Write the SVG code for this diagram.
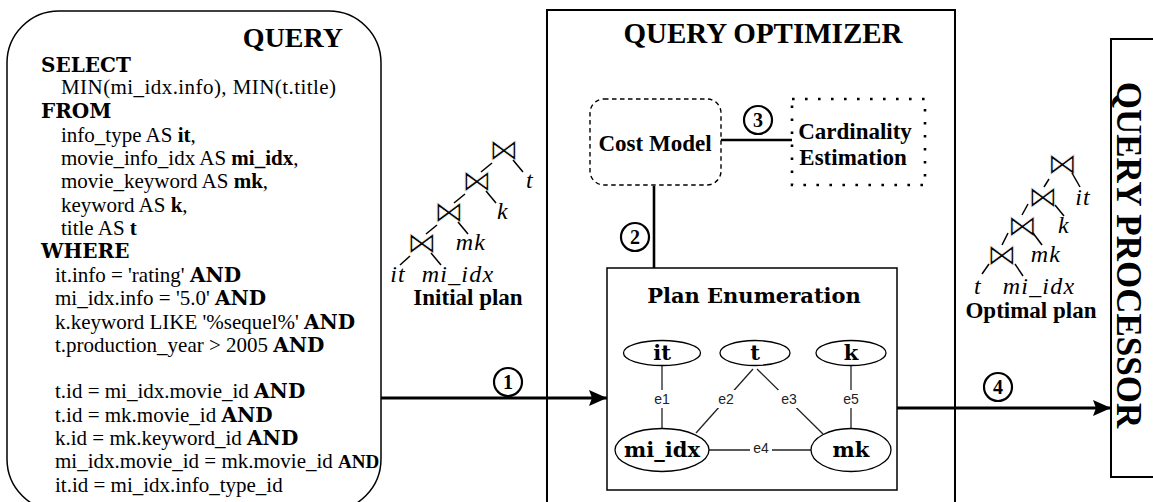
<svg xmlns="http://www.w3.org/2000/svg" width="1153" height="502" viewBox="0 0 1153 502">
<style>
  .q { font-family: "Liberation Serif", serif; font-size: 21px; fill: #000; }
  .kw { font-family: "DejaVu Serif", serif; font-weight: bold; font-size: 20px; }
  .b { font-weight: bold; }
  .tb { font-family: "Liberation Serif", serif; font-weight: bold; fill: #000; }
  .cm { font-family: "DejaVu Serif", serif; font-weight: bold; fill: #000; text-anchor: middle; }
  .mi { font-family: "Liberation Serif", serif; font-style: italic; font-size: 24px; letter-spacing: 1.2px; text-anchor: middle; }
  /* join operator: glyph slightly thinned with a white outline */
  .bt { font-family: "DejaVu Sans", sans-serif; font-size: 30px; text-anchor: middle; fill: #000; stroke: #fff; stroke-width: 0.8px; opacity: 0.99; }
  .el { font-family: "Liberation Sans", Arial, sans-serif; font-size: 14px; text-anchor: middle; fill: #222; }
  .box { fill: none; stroke: #000; stroke-width: 2; }
  .edge { stroke: #222; stroke-width: 1.3; fill: none; }
  .tree line { stroke: #000; stroke-width: 1.5; }
  .num circle { fill: #fff; stroke: #000; stroke-width: 2.2; }
  .num text { font-family: "Liberation Serif", serif; font-weight: bold; font-size: 20px; text-anchor: middle; }
  .node ellipse { fill: #fff; stroke: #000; stroke-width: 1.3; }
</style>
<defs>
  <marker id="ah" markerUnits="userSpaceOnUse" markerWidth="18" markerHeight="16" refX="18" refY="8" orient="auto">
    <path d="M0,0 L18,8 L0,16 L3,8 z" fill="#000"/>
  </marker>
</defs>

<rect width="1153" height="502" fill="#fff"/>

<!-- SQL query panel -->
<g id="query">
  <rect x="7" y="11" width="374" height="500" rx="52" ry="52" fill="none" stroke="#000" stroke-width="1.5"/>
  <text class="tb" x="343" y="47" font-size="28" text-anchor="end">QUERY</text>
  <text class="kw" x="41" y="72">SELECT</text>
  <text class="q" x="61" y="94" textLength="275">MIN(mi_idx.info), MIN(t.title)</text>
  <text class="kw" x="41" y="118">FROM</text>
  <text class="q" x="61" y="142">info_type AS <tspan class="b">it</tspan>,</text>
  <text class="q" x="61" y="165">movie_info_idx AS <tspan class="b">mi_idx</tspan>,</text>
  <text class="q" x="61" y="188">movie_keyword AS <tspan class="b">mk</tspan>,</text>
  <text class="q" x="61" y="212">keyword AS <tspan class="b">k</tspan>,</text>
  <text class="q" x="61" y="235">title AS <tspan class="b">t</tspan></text>
  <text class="kw" x="41" y="258">WHERE</text>
  <text class="q" x="55" y="282">it.info = 'rating' <tspan class="kw">AND</tspan></text>
  <text class="q" x="55" y="305">mi_idx.info = '5.0' <tspan class="kw">AND</tspan></text>
  <text class="q" x="55" y="329">k.keyword LIKE '%sequel%' <tspan class="kw">AND</tspan></text>
  <text class="q" x="55" y="352">t.production_year &gt; 2005 <tspan class="kw">AND</tspan></text>
  <text class="q" x="55" y="398">t.id = mi_idx.movie_id <tspan class="kw">AND</tspan></text>
  <text class="q" x="55" y="422">t.id = mk.movie_id <tspan class="kw">AND</tspan></text>
  <text class="q" x="55" y="445">k.id = mk.keyword_id <tspan class="kw">AND</tspan></text>
  <text class="q" x="55" y="468">mi_idx.movie_id = mk.movie_id <tspan class="b" font-size="19">AND</tspan></text>
  <text class="q" x="55" y="492">it.id = mi_idx.info_type_id</text>
</g>

<!-- initial join tree -->
<g id="initial-plan" class="tree">
  <text class="bt" x="504" y="160">⋈</text>
  <text class="bt" x="477" y="191">⋈</text>
  <text class="bt" x="449" y="222">⋈</text>
  <text class="bt" x="422" y="253">⋈</text>
  <line x1="492" y1="163" x2="481" y2="172"/>
  <line x1="513" y1="160" x2="523" y2="172"/>
  <line x1="465" y1="194" x2="454" y2="203"/>
  <line x1="486" y1="191" x2="496" y2="203"/>
  <line x1="437" y1="225" x2="426" y2="234"/>
  <line x1="458" y1="222" x2="468" y2="234"/>
  <line x1="410" y1="256" x2="400" y2="265"/>
  <line x1="431" y1="253" x2="441" y2="265"/>
  <text class="mi" x="530" y="188">t</text>
  <text class="mi" x="503" y="219">k</text>
  <text class="mi" x="471" y="250">mk</text>
  <text class="mi" x="398" y="282">it</text>
  <text class="mi" x="458" y="282">mi_idx</text>
  <text class="tb" x="468" y="305" font-size="23" text-anchor="middle">Initial plan</text>
</g>

<!-- optimizer frame -->
<g id="optimizer">
  <rect x="547" y="10" width="408" height="510" class="box"/>
  <text class="tb" x="763" y="43" font-size="29" text-anchor="middle">QUERY OPTIMIZER</text>
</g>

<g id="cost-model">
  <rect x="590" y="99" width="131" height="86" rx="14" ry="14" fill="#fff" stroke="#000" stroke-width="1.4" stroke-dasharray="4.5,3.5"/>
  <text class="tb" x="655" y="151" font-size="23" text-anchor="middle">Cost Model</text>
</g>

<g id="cardinality">
  <rect x="792" y="99" width="133" height="86" fill="none" stroke="#000" stroke-width="2.6" stroke-dasharray="2.6,10.4"/>
  <text class="tb" x="855" y="139" font-size="23" text-anchor="middle">Cardinality</text>
  <text class="tb" x="853" y="165" font-size="23" text-anchor="middle">Estimation</text>
</g>

<g id="plan-enumeration">
  <rect x="607" y="268" width="290" height="222" fill="#fff" stroke="#000" stroke-width="1.5"/>
  <text class="cm" x="754" y="303" font-size="21">Plan Enumeration</text>
</g>

<!-- join graph edges -->
<g id="join-graph-edges">
  <line class="edge" x1="662" y1="365" x2="662" y2="429"/>
  <line class="edge" x1="753" y1="369" x2="696" y2="433"/>
  <line class="edge" x1="757" y1="369" x2="823" y2="434"/>
  <line class="edge" x1="851" y1="365" x2="851" y2="428"/>
  <line class="edge" x1="709" y1="450" x2="811" y2="450"/>
  <g fill="#fff">
    <rect x="652" y="390" width="20" height="18"/>
    <rect x="715" y="390" width="22" height="18"/>
    <rect x="778" y="390" width="22" height="18"/>
    <rect x="841" y="390" width="20" height="18"/>
    <rect x="750" y="441" width="22" height="16"/>
  </g>
  <text class="el" x="662" y="404">e1</text>
  <text class="el" x="726" y="404">e2</text>
  <text class="el" x="789" y="404">e3</text>
  <text class="el" x="851" y="404">e5</text>
  <text class="el" x="761" y="453">e4</text>
</g>

<g id="node-it" class="node">
  <ellipse cx="662" cy="353" rx="38.5" ry="12.5"/>
  <text class="cm" x="662" y="360" font-size="21">it</text>
</g>
<g id="node-t" class="node">
  <ellipse cx="755" cy="353" rx="35" ry="12.5"/>
  <text class="cm" x="755" y="360" font-size="21">t</text>
</g>
<g id="node-k" class="node">
  <ellipse cx="851" cy="353" rx="35" ry="12.5"/>
  <text class="cm" x="851" y="360" font-size="21">k</text>
</g>
<g id="node-mi_idx" class="node">
  <ellipse cx="662" cy="450" rx="47" ry="21.5"/>
  <text class="cm" x="662" y="457" font-size="21">mi_idx</text>
</g>
<g id="node-mk" class="node">
  <ellipse cx="851" cy="450" rx="40" ry="21.5"/>
  <text class="cm" x="851" y="457" font-size="21">mk</text>
</g>

<!-- optimal join tree -->
<g id="optimal-plan" class="tree">
  <text class="bt" x="1062.5" y="174">⋈</text>
  <text class="bt" x="1043" y="206.5">⋈</text>
  <text class="bt" x="1022.5" y="235.5">⋈</text>
  <text class="bt" x="1002" y="264.5">⋈</text>
  <line x1="1049" y1="179" x2="1044" y2="187"/>
  <line x1="1072" y1="173" x2="1080" y2="187"/>
  <line x1="1028" y1="204" x2="1022" y2="215"/>
  <line x1="1055" y1="205" x2="1064" y2="216"/>
  <line x1="1008" y1="233" x2="1002" y2="245"/>
  <line x1="1033" y1="233" x2="1042" y2="245"/>
  <line x1="989" y1="264" x2="982" y2="274"/>
  <line x1="1015" y1="264" x2="1023" y2="276"/>
  <text class="mi" x="1083" y="205">it</text>
  <text class="mi" x="1064" y="233">k</text>
  <text class="mi" x="1046" y="262">mk</text>
  <text class="mi" x="978" y="294">t</text>
  <text class="mi" x="1039" y="294">mi_idx</text>
  <text class="tb" x="1031" y="318" font-size="23" text-anchor="middle">Optimal plan</text>
</g>

<g id="processor">
  <rect x="1111" y="39" width="60" height="438" class="box"/>
  <text class="tb" font-size="35" text-anchor="middle" transform="translate(1117,255) rotate(90)">QUERY PROCESSOR</text>
</g>

<!-- connectors between components -->
<g id="connectors">
  <line x1="381" y1="398" x2="607" y2="398" stroke="#000" stroke-width="3" marker-end="url(#ah)"/>
  <line x1="654" y1="186" x2="654" y2="268" stroke="#000" stroke-width="2.6"/>
  <line x1="721" y1="140" x2="792" y2="140" stroke="#000" stroke-width="2.6"/>
  <line x1="897" y1="408" x2="1111" y2="408" stroke="#000" stroke-width="3" marker-end="url(#ah)"/>
  <g class="num">
    <circle cx="508" cy="382" r="14"/><text x="508" y="389">1</text>
    <circle cx="635" cy="237" r="14"/><text x="635" y="244">2</text>
    <circle cx="758" cy="120" r="14"/><text x="758" y="127">3</text>
    <circle cx="998" cy="387" r="14"/><text x="998" y="394">4</text>
  </g>
</g>
</svg>
